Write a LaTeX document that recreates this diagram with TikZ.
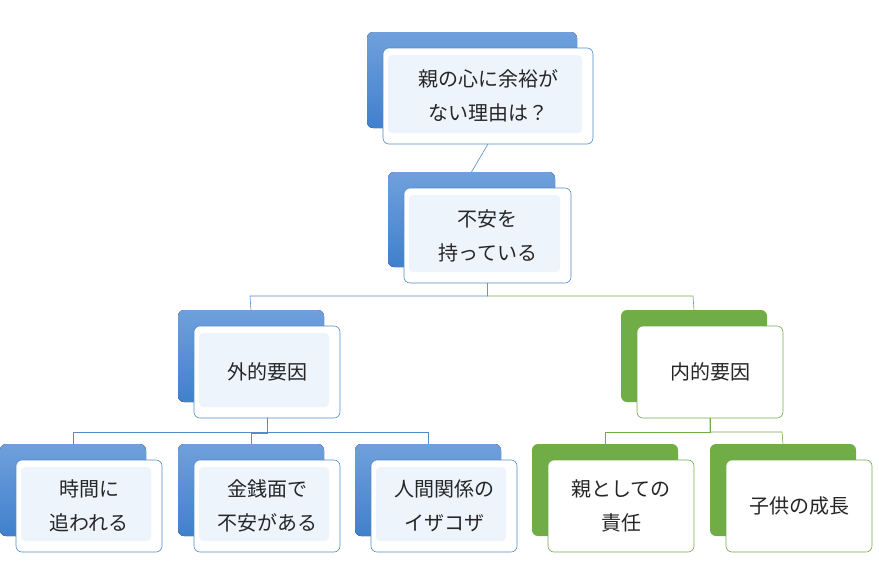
\documentclass[tikz,border=0pt]{standalone}
\usepackage{fontspec}
\newfontfamily\cjk{Noto Sans CJK JP}
\begin{document}
\begin{tikzpicture}[x=1pt,y=-1pt,
  back/.style={rounded corners=6pt,draw=none},
  bblue/.style={back,top color=blue!30!cyan!40!white!0,top color={rgb,255:red,112;green,160;blue,220},bottom color={rgb,255:red,64;green,128;blue,204}},
  bgreen/.style={back,fill={rgb,255:red,112;green,173;blue,71}},
  front/.style={rounded corners=6pt,fill=white},
  inner/.style={rounded corners=4pt,fill={rgb,255:red,238;green,244;blue,252}},
  txt/.style={font=\cjk\fontsize{20}{34}\selectfont,align=center,text=black!85},
  lb/.style={draw={rgb,255:red,84;green,140;blue,200},line width=0.6pt},
  lg/.style={draw={rgb,255:red,112;green,173;blue,71},line width=0.6pt}]
\useasboundingbox (0,0) rectangle (879,584);
% #1 name, #2 x, #3 y, #4 w, #5 h, #6 back style, #7 line style, #8 inner?, #9 text
\newcommand\mybox[9]{%
  \fill[#6] (#2,#3) rectangle ++(#4,#5);
  \coordinate (#1t) at ({#2+#4/2},#3);
  \filldraw[front,#7] ({#2+16},{#3+16}) rectangle ++(#4,#5);
  \ifx#8y\fill[inner] ({#2+21},{#3+23}) rectangle ++({#4-16},{#5-18});\fi
  \node[txt] (#1) at ({#2+16+#4/2},{#3+16+#5/2}) {#9};
  \coordinate (#1b) at ({#2+16+#4/2},{#3+16+#5});
}
\mybox{r}{367}{32}{210}{96}{bblue}{lb}{y}{親の心に余裕が\\ない理由は？}
\mybox{f}{388}{172}{167}{95}{bblue}{lb}{y}{不安を\\持っている}
\mybox{e}{178}{310}{146}{92}{bblue}{lb}{y}{外的要因}
\mybox{i}{621}{310}{146}{92}{bgreen}{lg}{n}{内的要因}
\mybox{a}{0}{444}{146}{92}{bblue}{lb}{y}{時間に\\追われる}
\mybox{b}{178}{444}{146}{92}{bblue}{lb}{y}{金銭面で\\不安がある}
\mybox{c}{355}{444}{146}{92}{bblue}{lb}{y}{人間関係の\\イザコザ}
\mybox{d}{532}{444}{146}{92}{bgreen}{lg}{n}{親としての\\責任}
\mybox{g}{710}{444}{146}{92}{bgreen}{lg}{n}{子供の成長}
\draw[lb] (rb) -- (ft);
\draw[lb] (fb) |- (250,296) -- (et);
\draw[lg] (fb) |- (693,296) -- (it);
\draw[lb] (eb) |- (73,432) -- (at);
\draw[lb] (eb) -- ++(0,15) -| (bt);
\draw[lb] (eb) |- (428,432) -- (ct);
\draw[lg] (ib) |- (605,432) -- (dt);
\draw[lg] (ib) |- (782,432) -- (gt);
\end{tikzpicture}
\end{document}
